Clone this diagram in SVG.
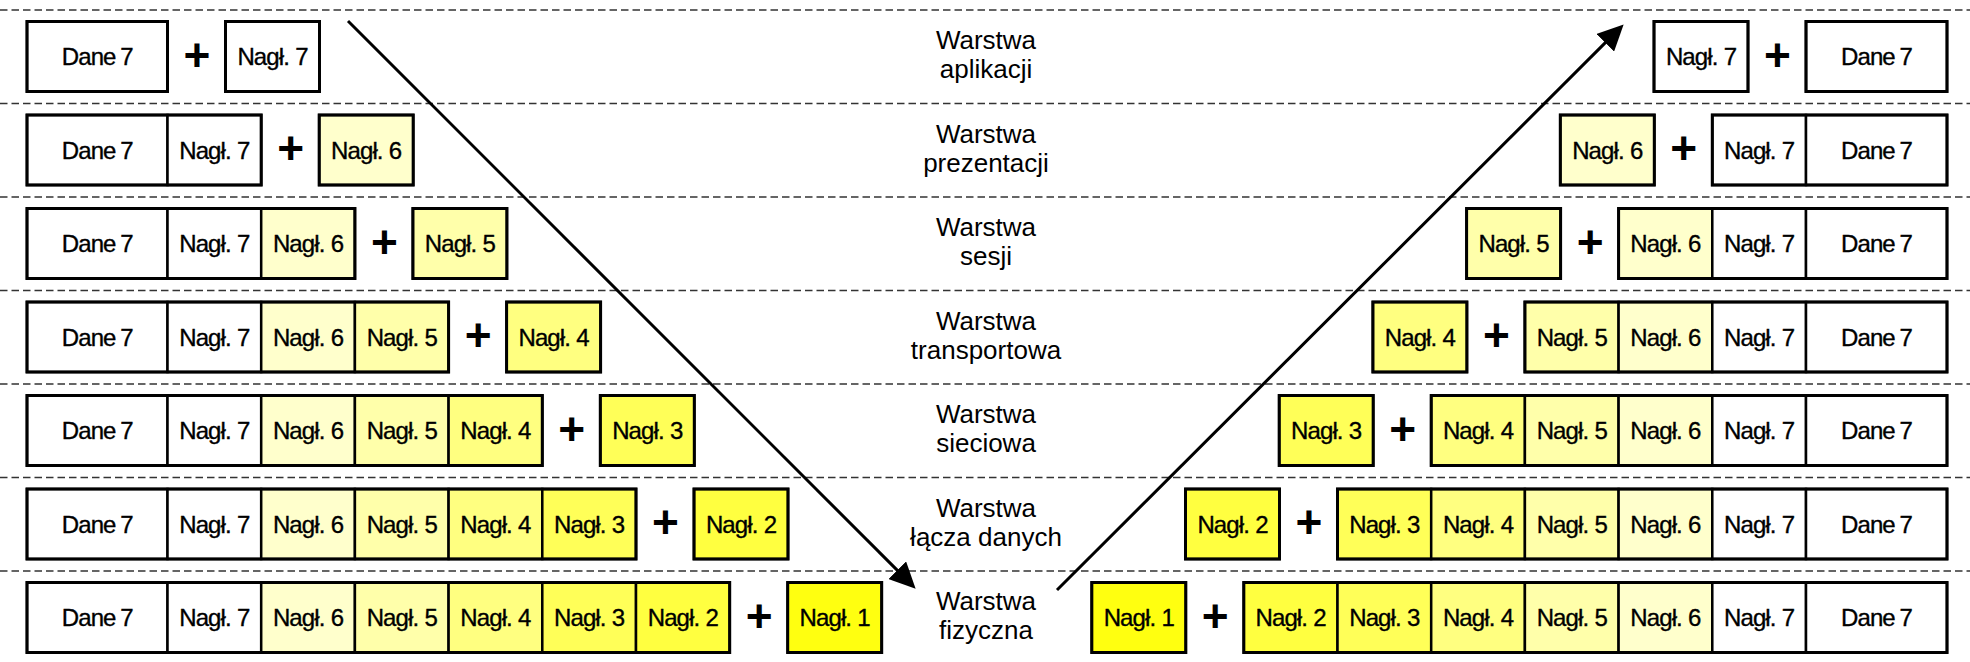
<svg xmlns="http://www.w3.org/2000/svg" width="1970" height="662" viewBox="0 0 1970 662">
<style>
.bg{fill:#fff}
.sep{stroke:#333;stroke-width:1.6;stroke-dasharray:7.5 4;fill:none}
.cell{stroke:#000;stroke-width:2.5}
.out{fill:none;stroke:#000;stroke-width:3}
.w{fill:#fff}.h6{fill:#FFFFCC}.h5{fill:#FFFFAA}.h4{fill:#FFFF80}.h3{fill:#FFFF58}.h2{fill:#FFFF40}.h1{fill:#FFFF10}
.t{font-family:"Liberation Sans",Arial,sans-serif;font-size:24px;letter-spacing:-0.9px;word-spacing:0.5px;text-anchor:middle;fill:#000;stroke:#000;stroke-width:0.35}
.d{word-spacing:-1px}
.p{font-family:"Liberation Sans",Arial,sans-serif;font-size:46px;font-weight:bold;text-anchor:middle;fill:#000}
.L{font-family:"Liberation Sans",Arial,sans-serif;font-size:26px;text-anchor:middle;fill:#000}
.ar{stroke:#000;stroke-width:3;fill:none}
</style>
<defs>
<marker id="ah" markerUnits="userSpaceOnUse" markerWidth="26" markerHeight="25" refX="8" refY="12.5" orient="auto" viewBox="0 0 26 25">
<path d="M0,0 L26,12.5 L0,25 z" fill="#000"/>
</marker>
</defs>
<rect class="bg" x="0" y="0" width="1970" height="662"/>

<g id="separators">
<line class="sep" x1="0" y1="10" x2="1970" y2="10"/>
<line class="sep" x1="0" y1="103.5" x2="1970" y2="103.5"/>
<line class="sep" x1="0" y1="197" x2="1970" y2="197"/>
<line class="sep" x1="0" y1="290.5" x2="1970" y2="290.5"/>
<line class="sep" x1="0" y1="384" x2="1970" y2="384"/>
<line class="sep" x1="0" y1="477.5" x2="1970" y2="477.5"/>
<line class="sep" x1="0" y1="571" x2="1970" y2="571"/>
</g>

<!-- Layer labels -->
<g id="layer-labels">
<text class="L" x="986" y="49">Warstwa</text><text class="L" x="986" y="78">aplikacji</text>
<text class="L" x="986" y="142.5">Warstwa</text><text class="L" x="986" y="171.5">prezentacji</text>
<text class="L" x="986" y="236">Warstwa</text><text class="L" x="986" y="265">sesji</text>
<text class="L" x="986" y="329.5">Warstwa</text><text class="L" x="986" y="358.5">transportowa</text>
<text class="L" x="986" y="423">Warstwa</text><text class="L" x="986" y="452">sieciowa</text>
<text class="L" x="986" y="516.5">Warstwa</text><text class="L" x="986" y="545.5">łącza danych</text>
<text class="L" x="986" y="610">Warstwa</text><text class="L" x="986" y="639">fizyczna</text>
</g>

<!-- LEFT SIDE -->
<g id="left-row1" transform="translate(0,21.5)">
<rect class="cell w" x="27" y="0" width="140.5" height="70"/>
<rect class="out" x="27" y="0" width="140.5" height="70"/>
<text class="t d" x="97.25" y="43.6">Dane 7</text>
<text class="p" x="197" y="49">+</text>
<rect class="cell w" x="225.5" y="0" width="94" height="70"/><rect class="out" x="225.5" y="0" width="94" height="70"/>
<text class="t" x="272.5" y="43.6">Nagł. 7</text>
</g>

<g id="left-row2" transform="translate(0,115)">
<rect class="cell w" x="27" y="0" width="140.5" height="70"/>
<rect class="cell w" x="167.5" y="0" width="93.7" height="70"/>
<rect class="out" x="27" y="0" width="234.2" height="70"/>
<text class="t d" x="97.25" y="43.6">Dane 7</text>
<text class="t" x="214.35" y="43.6">Nagł. 7</text>
<text class="p" x="290.7" y="49">+</text>
<rect class="cell h6" x="319.2" y="0" width="94" height="70"/><rect class="out" x="319.2" y="0" width="94" height="70"/>
<text class="t" x="366.2" y="43.6">Nagł. 6</text>
</g>

<g id="left-row3" transform="translate(0,208.5)">
<rect class="cell w" x="27" y="0" width="140.5" height="70"/>
<rect class="cell w" x="167.5" y="0" width="93.7" height="70"/>
<rect class="cell h6" x="261.2" y="0" width="93.7" height="70"/>
<rect class="out" x="27" y="0" width="327.9" height="70"/>
<text class="t d" x="97.25" y="43.6">Dane 7</text>
<text class="t" x="214.35" y="43.6">Nagł. 7</text>
<text class="t" x="308.05" y="43.6">Nagł. 6</text>
<text class="p" x="384.4" y="49">+</text>
<rect class="cell h5" x="412.9" y="0" width="94" height="70"/><rect class="out" x="412.9" y="0" width="94" height="70"/>
<text class="t" x="459.9" y="43.6">Nagł. 5</text>
</g>

<g id="left-row4" transform="translate(0,302)">
<rect class="cell w" x="27" y="0" width="140.5" height="70"/>
<rect class="cell w" x="167.5" y="0" width="93.7" height="70"/>
<rect class="cell h6" x="261.2" y="0" width="93.7" height="70"/>
<rect class="cell h5" x="354.9" y="0" width="93.7" height="70"/>
<rect class="out" x="27" y="0" width="421.6" height="70"/>
<text class="t d" x="97.25" y="43.6">Dane 7</text>
<text class="t" x="214.35" y="43.6">Nagł. 7</text>
<text class="t" x="308.05" y="43.6">Nagł. 6</text>
<text class="t" x="401.75" y="43.6">Nagł. 5</text>
<text class="p" x="478.1" y="49">+</text>
<rect class="cell h4" x="506.6" y="0" width="94" height="70"/><rect class="out" x="506.6" y="0" width="94" height="70"/>
<text class="t" x="553.6" y="43.6">Nagł. 4</text>
</g>

<g id="left-row5" transform="translate(0,395.5)">
<rect class="cell w" x="27" y="0" width="140.5" height="70"/>
<rect class="cell w" x="167.5" y="0" width="93.7" height="70"/>
<rect class="cell h6" x="261.2" y="0" width="93.7" height="70"/>
<rect class="cell h5" x="354.9" y="0" width="93.7" height="70"/>
<rect class="cell h4" x="448.6" y="0" width="93.7" height="70"/>
<rect class="out" x="27" y="0" width="515.3" height="70"/>
<text class="t d" x="97.25" y="43.6">Dane 7</text>
<text class="t" x="214.35" y="43.6">Nagł. 7</text>
<text class="t" x="308.05" y="43.6">Nagł. 6</text>
<text class="t" x="401.75" y="43.6">Nagł. 5</text>
<text class="t" x="495.45" y="43.6">Nagł. 4</text>
<text class="p" x="571.8" y="49">+</text>
<rect class="cell h3" x="600.3" y="0" width="94" height="70"/><rect class="out" x="600.3" y="0" width="94" height="70"/>
<text class="t" x="647.3" y="43.6">Nagł. 3</text>
</g>

<g id="left-row6" transform="translate(0,489)">
<rect class="cell w" x="27" y="0" width="140.5" height="70"/>
<rect class="cell w" x="167.5" y="0" width="93.7" height="70"/>
<rect class="cell h6" x="261.2" y="0" width="93.7" height="70"/>
<rect class="cell h5" x="354.9" y="0" width="93.7" height="70"/>
<rect class="cell h4" x="448.6" y="0" width="93.7" height="70"/>
<rect class="cell h3" x="542.3" y="0" width="93.7" height="70"/>
<rect class="out" x="27" y="0" width="609" height="70"/>
<text class="t d" x="97.25" y="43.6">Dane 7</text>
<text class="t" x="214.35" y="43.6">Nagł. 7</text>
<text class="t" x="308.05" y="43.6">Nagł. 6</text>
<text class="t" x="401.75" y="43.6">Nagł. 5</text>
<text class="t" x="495.45" y="43.6">Nagł. 4</text>
<text class="t" x="589.15" y="43.6">Nagł. 3</text>
<text class="p" x="665.5" y="49">+</text>
<rect class="cell h2" x="694" y="0" width="94" height="70"/><rect class="out" x="694" y="0" width="94" height="70"/>
<text class="t" x="741" y="43.6">Nagł. 2</text>
</g>

<g id="left-row7" transform="translate(0,582.5)">
<rect class="cell w" x="27" y="0" width="140.5" height="70"/>
<rect class="cell w" x="167.5" y="0" width="93.7" height="70"/>
<rect class="cell h6" x="261.2" y="0" width="93.7" height="70"/>
<rect class="cell h5" x="354.9" y="0" width="93.7" height="70"/>
<rect class="cell h4" x="448.6" y="0" width="93.7" height="70"/>
<rect class="cell h3" x="542.3" y="0" width="93.7" height="70"/>
<rect class="cell h2" x="636" y="0" width="93.7" height="70"/>
<rect class="out" x="27" y="0" width="702.7" height="70"/>
<text class="t d" x="97.25" y="43.6">Dane 7</text>
<text class="t" x="214.35" y="43.6">Nagł. 7</text>
<text class="t" x="308.05" y="43.6">Nagł. 6</text>
<text class="t" x="401.75" y="43.6">Nagł. 5</text>
<text class="t" x="495.45" y="43.6">Nagł. 4</text>
<text class="t" x="589.15" y="43.6">Nagł. 3</text>
<text class="t" x="682.85" y="43.6">Nagł. 2</text>
<text class="p" x="759.2" y="49">+</text>
<rect class="cell h1" x="787.7" y="0" width="94" height="70"/><rect class="out" x="787.7" y="0" width="94" height="70"/>
<text class="t" x="834.7" y="43.6">Nagł. 1</text>
</g>

<!-- RIGHT SIDE -->
<g id="right-row1" transform="translate(0,21.5)">
<rect class="cell w" x="1654" y="0" width="94" height="70"/><rect class="out" x="1654" y="0" width="94" height="70"/>
<text class="t" x="1701" y="43.6">Nagł. 7</text>
<text class="p" x="1777.5" y="49">+</text>
<rect class="cell w" x="1806" y="0" width="141" height="70"/>
<rect class="out" x="1806" y="0" width="141" height="70"/>
<text class="t d" x="1876.5" y="43.6">Dane 7</text>
</g>

<g id="right-row2" transform="translate(0,115)">
<rect class="cell h6" x="1560.3" y="0" width="94" height="70"/><rect class="out" x="1560.3" y="0" width="94" height="70"/>
<text class="t" x="1607.3" y="43.6">Nagł. 6</text>
<text class="p" x="1683.8" y="49">+</text>
<rect class="cell w" x="1712.3" y="0" width="93.7" height="70"/>
<rect class="cell w" x="1806" y="0" width="141" height="70"/>
<rect class="out" x="1712.3" y="0" width="234.7" height="70"/>
<text class="t" x="1759.15" y="43.6">Nagł. 7</text>
<text class="t d" x="1876.5" y="43.6">Dane 7</text>
</g>

<g id="right-row3" transform="translate(0,208.5)">
<rect class="cell h5" x="1466.6" y="0" width="94" height="70"/><rect class="out" x="1466.6" y="0" width="94" height="70"/>
<text class="t" x="1513.6" y="43.6">Nagł. 5</text>
<text class="p" x="1590.1" y="49">+</text>
<rect class="cell h6" x="1618.6" y="0" width="93.7" height="70"/>
<rect class="cell w" x="1712.3" y="0" width="93.7" height="70"/>
<rect class="cell w" x="1806" y="0" width="141" height="70"/>
<rect class="out" x="1618.6" y="0" width="328.4" height="70"/>
<text class="t" x="1665.45" y="43.6">Nagł. 6</text>
<text class="t" x="1759.15" y="43.6">Nagł. 7</text>
<text class="t d" x="1876.5" y="43.6">Dane 7</text>
</g>

<g id="right-row4" transform="translate(0,302)">
<rect class="cell h4" x="1372.9" y="0" width="94" height="70"/><rect class="out" x="1372.9" y="0" width="94" height="70"/>
<text class="t" x="1419.9" y="43.6">Nagł. 4</text>
<text class="p" x="1496.4" y="49">+</text>
<rect class="cell h5" x="1524.9" y="0" width="93.7" height="70"/>
<rect class="cell h6" x="1618.6" y="0" width="93.7" height="70"/>
<rect class="cell w" x="1712.3" y="0" width="93.7" height="70"/>
<rect class="cell w" x="1806" y="0" width="141" height="70"/>
<rect class="out" x="1524.9" y="0" width="422.1" height="70"/>
<text class="t" x="1571.75" y="43.6">Nagł. 5</text>
<text class="t" x="1665.45" y="43.6">Nagł. 6</text>
<text class="t" x="1759.15" y="43.6">Nagł. 7</text>
<text class="t d" x="1876.5" y="43.6">Dane 7</text>
</g>

<g id="right-row5" transform="translate(0,395.5)">
<rect class="cell h3" x="1279.2" y="0" width="94" height="70"/><rect class="out" x="1279.2" y="0" width="94" height="70"/>
<text class="t" x="1326.2" y="43.6">Nagł. 3</text>
<text class="p" x="1402.7" y="49">+</text>
<rect class="cell h4" x="1431.2" y="0" width="93.7" height="70"/>
<rect class="cell h5" x="1524.9" y="0" width="93.7" height="70"/>
<rect class="cell h6" x="1618.6" y="0" width="93.7" height="70"/>
<rect class="cell w" x="1712.3" y="0" width="93.7" height="70"/>
<rect class="cell w" x="1806" y="0" width="141" height="70"/>
<rect class="out" x="1431.2" y="0" width="515.8" height="70"/>
<text class="t" x="1478.05" y="43.6">Nagł. 4</text>
<text class="t" x="1571.75" y="43.6">Nagł. 5</text>
<text class="t" x="1665.45" y="43.6">Nagł. 6</text>
<text class="t" x="1759.15" y="43.6">Nagł. 7</text>
<text class="t d" x="1876.5" y="43.6">Dane 7</text>
</g>

<g id="right-row6" transform="translate(0,489)">
<rect class="cell h2" x="1185.5" y="0" width="94" height="70"/><rect class="out" x="1185.5" y="0" width="94" height="70"/>
<text class="t" x="1232.5" y="43.6">Nagł. 2</text>
<text class="p" x="1309" y="49">+</text>
<rect class="cell h3" x="1337.5" y="0" width="93.7" height="70"/>
<rect class="cell h4" x="1431.2" y="0" width="93.7" height="70"/>
<rect class="cell h5" x="1524.9" y="0" width="93.7" height="70"/>
<rect class="cell h6" x="1618.6" y="0" width="93.7" height="70"/>
<rect class="cell w" x="1712.3" y="0" width="93.7" height="70"/>
<rect class="cell w" x="1806" y="0" width="141" height="70"/>
<rect class="out" x="1337.5" y="0" width="609.5" height="70"/>
<text class="t" x="1384.35" y="43.6">Nagł. 3</text>
<text class="t" x="1478.05" y="43.6">Nagł. 4</text>
<text class="t" x="1571.75" y="43.6">Nagł. 5</text>
<text class="t" x="1665.45" y="43.6">Nagł. 6</text>
<text class="t" x="1759.15" y="43.6">Nagł. 7</text>
<text class="t d" x="1876.5" y="43.6">Dane 7</text>
</g>

<g id="right-row7" transform="translate(0,582.5)">
<rect class="cell h1" x="1091.8" y="0" width="94" height="70"/><rect class="out" x="1091.8" y="0" width="94" height="70"/>
<text class="t" x="1138.8" y="43.6">Nagł. 1</text>
<text class="p" x="1215.3" y="49">+</text>
<rect class="cell h2" x="1243.8" y="0" width="93.7" height="70"/>
<rect class="cell h3" x="1337.5" y="0" width="93.7" height="70"/>
<rect class="cell h4" x="1431.2" y="0" width="93.7" height="70"/>
<rect class="cell h5" x="1524.9" y="0" width="93.7" height="70"/>
<rect class="cell h6" x="1618.6" y="0" width="93.7" height="70"/>
<rect class="cell w" x="1712.3" y="0" width="93.7" height="70"/>
<rect class="cell w" x="1806" y="0" width="141" height="70"/>
<rect class="out" x="1243.8" y="0" width="703.2" height="70"/>
<text class="t" x="1290.65" y="43.6">Nagł. 2</text>
<text class="t" x="1384.35" y="43.6">Nagł. 3</text>
<text class="t" x="1478.05" y="43.6">Nagł. 4</text>
<text class="t" x="1571.75" y="43.6">Nagł. 5</text>
<text class="t" x="1665.45" y="43.6">Nagł. 6</text>
<text class="t" x="1759.15" y="43.6">Nagł. 7</text>
<text class="t d" x="1876.5" y="43.6">Dane 7</text>
</g>

<g id="connectors">
<line class="ar" x1="348" y1="21" x2="902.9" y2="575.9" marker-end="url(#ah)"/>
<line class="ar" x1="1057" y1="590" x2="1610.9" y2="37.1" marker-end="url(#ah)"/>
</g>
</svg>
